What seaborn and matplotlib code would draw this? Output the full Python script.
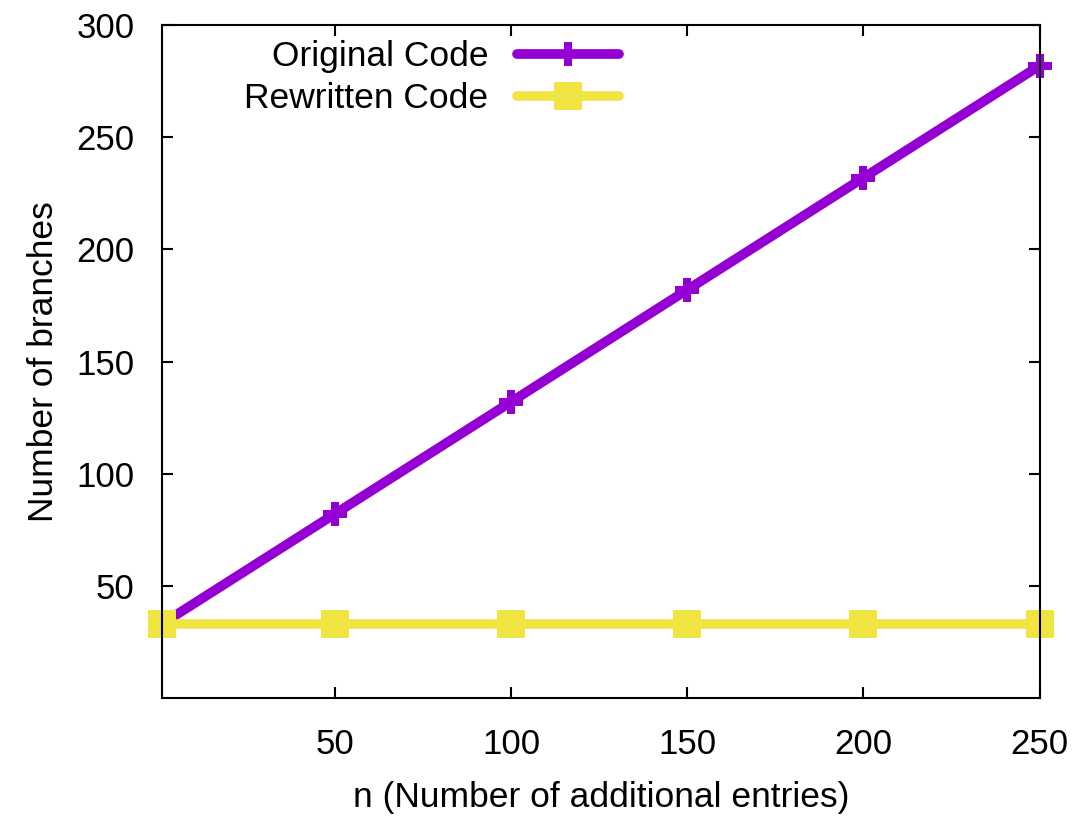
import matplotlib
matplotlib.use("Agg")
import matplotlib.pyplot as plt
import numpy as np
import pandas as pd
import seaborn as sns

n_values = [1, 50, 100, 150, 200, 250]
original_code = [33, 82, 132, 182, 232, 282]
rewritten_code = [33, 33, 33, 33, 33, 33]

sns.set_theme(style="ticks")
plt.rcParams['font.family'] = ['Liberation Sans', 'DejaVu Sans']
plt.rcParams['text.color'] = 'black'
plt.rcParams['axes.labelcolor'] = 'black'

fig = plt.figure(figsize=(10.74, 8.17), dpi=100)
ax = fig.add_axes([0.151, 0.146, 0.817, 0.823])

sns.lineplot(x=n_values, y=original_code, ax=ax, color="#9400D3", lw=7,
             marker="P", markersize=17, markeredgewidth=0, label="Original Code")
sns.lineplot(x=n_values, y=rewritten_code, ax=ax, color="#F0E442", lw=7,
             marker="s", markersize=20, markeredgewidth=0, label="Rewritten Code")

for ln in ax.lines:
    ln.set_clip_on(False)

ax.set_xlim(1, 250)
ax.set_ylim(0, 300)
ax.set_xticks([50, 100, 150, 200, 250])
ax.set_yticks([50, 100, 150, 200, 250, 300])
ax.tick_params(direction="in", length=8, width=1.5, top=True, right=True,
               labelsize=25, colors="black")
ax.tick_params(axis="y", pad=20)
ax.tick_params(axis="x", pad=22)
for s in ax.spines.values():
    s.set_linewidth(1.5)
    s.set_color("black")

ax.set_xlabel("n (Number of additional entries)", fontsize=25.5, labelpad=14)
ax.set_ylabel("Number of branches", fontsize=25.5, labelpad=12)

leg = ax.legend(loc="upper left", bbox_to_anchor=(0.057, 1.025), frameon=False,
                markerfirst=False, fontsize=25.5, handlelength=2.9,
                handletextpad=0.8, labelspacing=0.25)
for t in leg.get_texts():
    t.set_ha("right")

fig.savefig("out.png", dpi=100)
